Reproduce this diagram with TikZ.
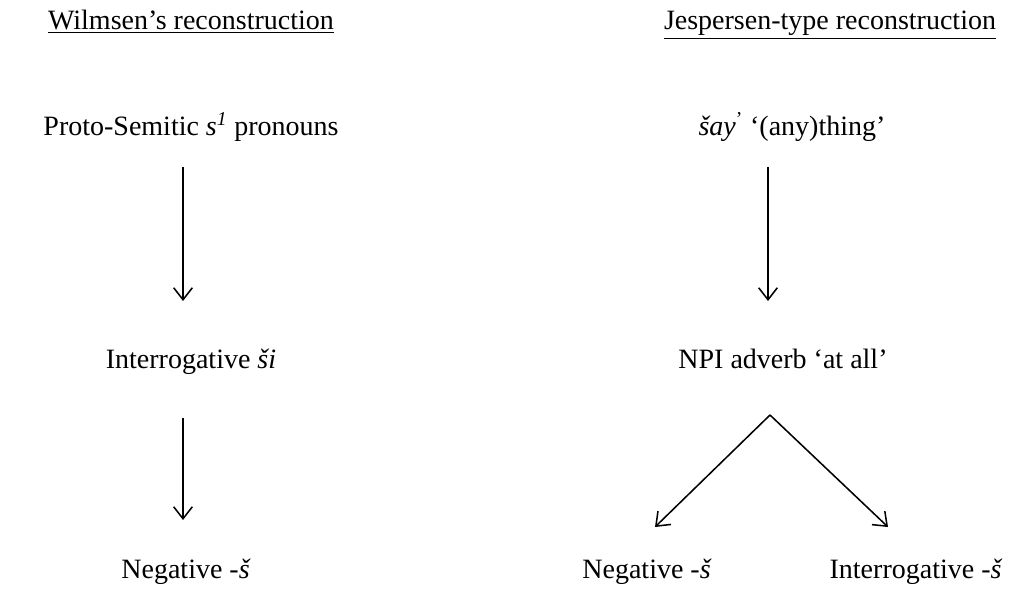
\documentclass[tikz,border=0pt]{standalone}
\usepackage{fontspec}
\setmainfont{Liberation Serif}
\usetikzlibrary{arrows.meta}
\begin{document}
\begin{tikzpicture}[x=0.75pt,y=-0.75pt,
  lbl/.style={inner sep=0pt,anchor=base,font=\fontsize{21}{25}\selectfont},
  conn/.style={line width=1.15pt,-{Straight Barb[length=9pt,width=14pt,line width=1.15pt]}}]
\useasboundingbox (0,0) rectangle (1016,595);
\node[lbl] (t1) at (191,30) {\underline{Wilmsen’s reconstruction}};
\node[lbl] (t2) at (830,30) {\underline{Jespersen-type reconstruction}};
\node[lbl] (a1) at (191,136) {Proto-Semitic \textit{s}\textsuperscript{\textit{1}} pronouns};
\node[lbl] (a2) at (191,368) {Interrogative \textit{ši}};
\node[lbl] (a3) at (186,578) {Negative -\textit{š}};
\node[lbl] (b1) at (792,136) {\textit{šay}\textsuperscript{’} ‘(any)thing’};
\node[lbl] (b2) at (783,368) {NPI adverb ‘at all’};
\node[lbl] (b3) at (647,578) {Negative -\textit{š}};
\node[lbl] (b4) at (916,578) {Interrogative -\textit{š}};
\coordinate (p1s) at (183,167);
\coordinate (p1e) at (183,301);
\coordinate (p2s) at (183,418);
\coordinate (p2e) at (183,520);
\coordinate (q1s) at (768,167);
\coordinate (q1e) at (768,301);
\coordinate (apex) at (770,415);
\coordinate (ql) at (655,527);
\coordinate (qr) at (888,527);
\draw[conn] (p1s) -- (p1e);
\draw[conn] (p2s) -- (p2e);
\draw[conn] (q1s) -- (q1e);
\draw[conn] (apex) -- (ql);
\draw[conn] (apex) -- (qr);
\end{tikzpicture}
\end{document}
